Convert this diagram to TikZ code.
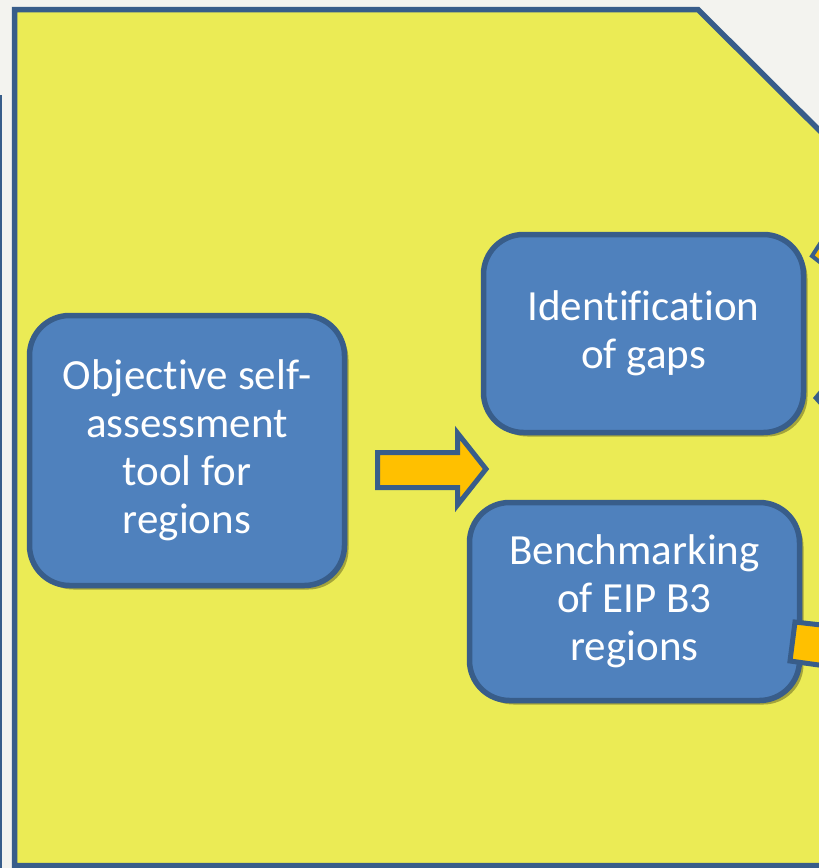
\documentclass[tikz,border=0pt]{standalone}
\usepackage{fontspec}
\setmainfont[RawFeature=-liga]{Carlito}
\usetikzlibrary{shadows}
\definecolor{paper}{RGB}{243,243,239}
\definecolor{panel}{RGB}{235,235,85}
\definecolor{boxfill}{RGB}{79,129,189}
\definecolor{boxline}{RGB}{56,93,138}
\definecolor{amber}{RGB}{255,192,0}
\tikzstyle{task} = [rectangle, rounded corners=40pt, fill=boxfill, draw=boxline, line width=5.5pt, text=white, align=center, font=\fontsize{43}{48}\selectfont, drop shadow={shadow xshift=4pt, shadow yshift=-4pt, opacity=0.3, fill=black}]
\tikzstyle{blockarrow} = [fill=amber, draw=boxline, line width=5pt, line join=miter]

\begin{document}
\begin{tikzpicture}[x=1pt, y=-1pt]
\useasboundingbox (0,0) rectangle (819,868);
\fill[paper] (0,0) rectangle (819,868);
\begin{scope}
\clip (0,0) rectangle (819,868);
% yellow panel with cut corner
\draw[fill=panel, draw=boxline, line width=5.5pt, line join=miter] (14.5,9.5) -- (698,9.5) -- (840,151) -- (840,865.5) -- (14.5,865.5) -- cycle;
\draw[boxline, line width=2pt] (1,95) -- (1,870);
% shapes cut off at the right edge
\draw[fill=amber, draw=boxline, line width=4pt] (812,256) -- (825,236) -- (830,270) -- cycle;
\fill[boxline] (813,398) -- (822,387) -- (822,408) -- cycle;
\end{scope}

\node (tool) [task, minimum width=315pt, minimum height=270pt] at (187,450.5) {Objective self-\\assessment\\tool for\\regions};
\node (gaps) [task, minimum width=320pt, minimum height=198pt] at (643.5,333.5) {Identification\\of gaps};
\node (bench) [task, minimum width=330pt, minimum height=198pt] at (634.5,601.5) {Benchmarking\\of EIP B3\\regions};

\draw[blockarrow] (377.5,452.5) -- (457.5,452.5) -- (457.5,433) -- (486,469) -- (457.5,505) -- (457.5,487.5) -- (377.5,487.5) -- cycle;
\begin{scope}
\clip (0,0) rectangle (819,868);
\draw[blockarrow] (795,622) -- (830,626) -- (826,666) -- (790,661) -- cycle;
\end{scope}
\end{tikzpicture}
\end{document}
